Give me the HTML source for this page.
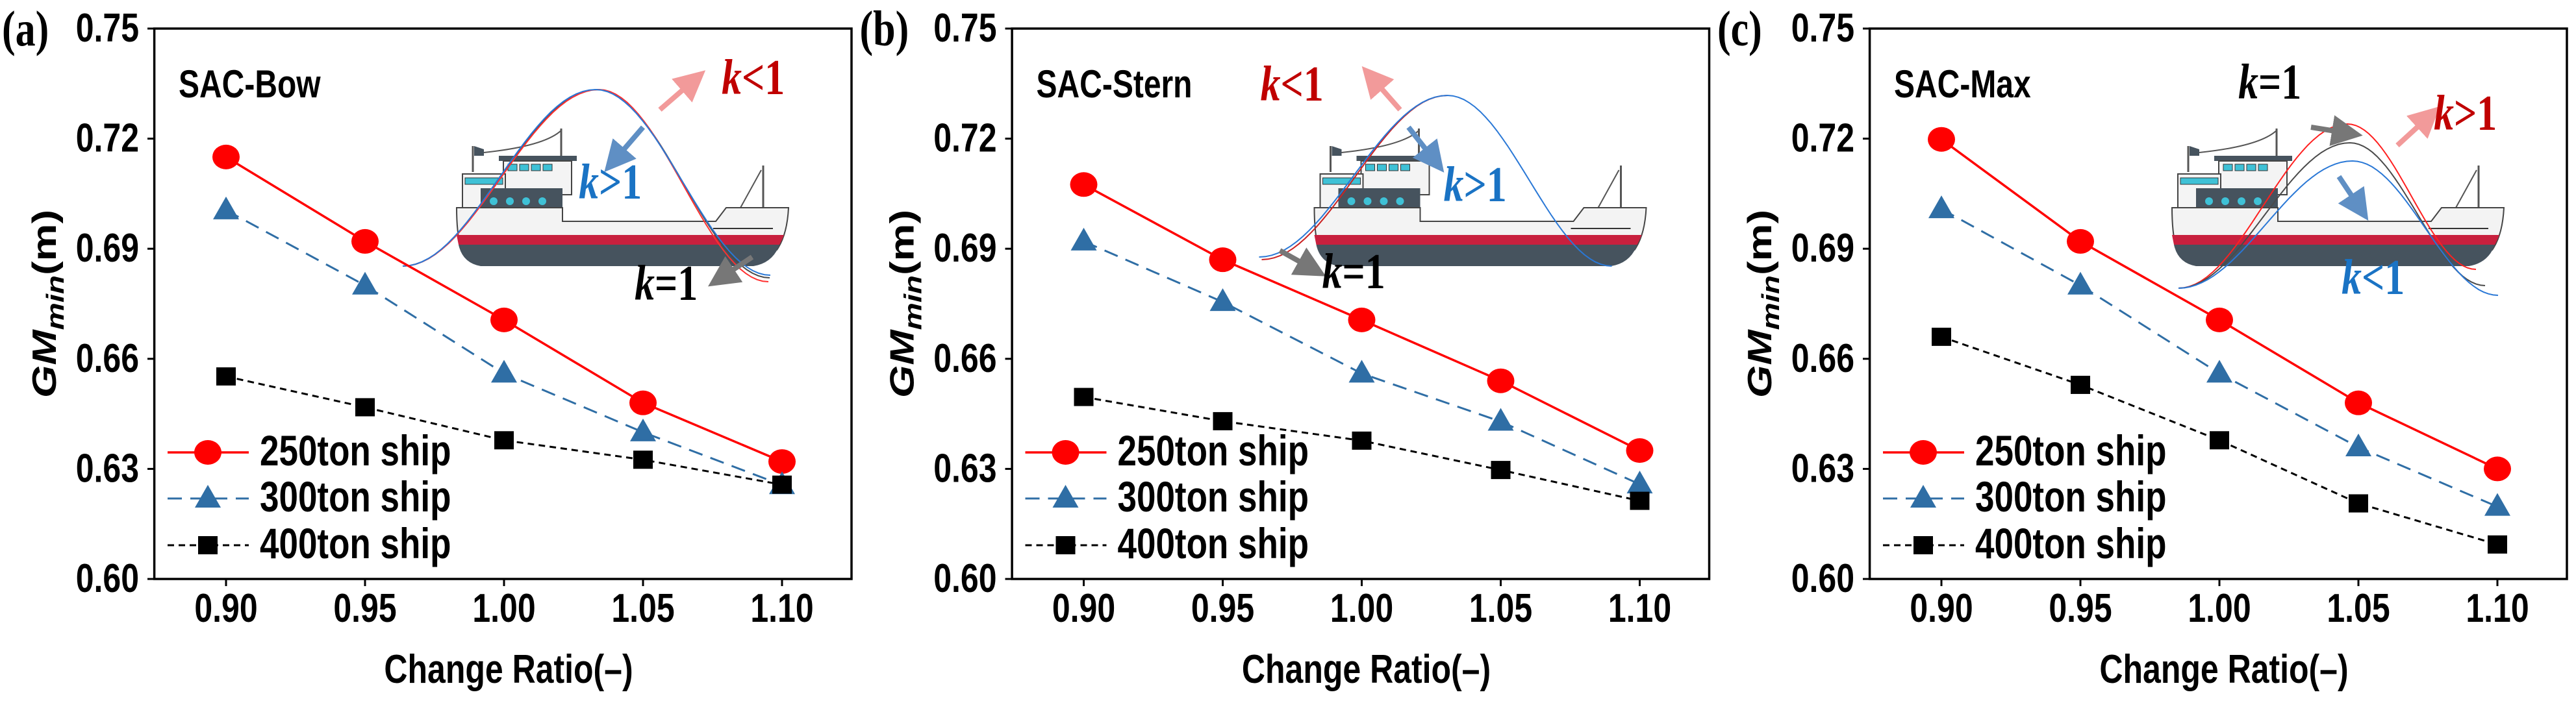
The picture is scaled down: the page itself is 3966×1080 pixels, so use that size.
<!DOCTYPE html>
<html><head><meta charset="utf-8">
<style>
html,body{margin:0;padding:0;background:#fff;}
svg{display:block;}
text{font-family:"Liberation Sans",Arial,sans-serif;font-weight:bold;}
.serif{font-family:"Liberation Serif","Times New Roman",serif;}
</style></head>
<body>
<svg id="chart" width="3966" height="1080" viewBox="0 0 3966 1080" xmlns="http://www.w3.org/2000/svg">
<defs>
<marker id="ahR" markerWidth="6" markerHeight="6" refX="3" refY="3" orient="auto"><path d="M0,0 L6,3 L0,6 Z" fill="#f29a9a"/></marker>
<marker id="ahB" markerWidth="6" markerHeight="6" refX="3" refY="3" orient="auto"><path d="M0,0 L6,3 L0,6 Z" fill="#5f8fc4"/></marker>
<marker id="ahK" markerWidth="6" markerHeight="6" refX="3" refY="3" orient="auto"><path d="M0,0 L6,3 L0,6 Z" fill="#777"/></marker>
</defs>
</svg>
<script>
// ---- data ----
const categories = [0.90, 0.95, 1.00, 1.05, 1.10];
const xTickLabels = ["0.90", "0.95", "1.00", "1.05", "1.10"];
const yTickValues = [0.60, 0.63, 0.66, 0.69, 0.72, 0.75];
const yTickLabels = ["0.60", "0.63", "0.66", "0.69", "0.72", "0.75"];
const seriesNames = ["250ton ship", "300ton ship", "400ton ship"];
const panelLabels = ["(a)", "(b)", "(c)"];
const panelTitles = ["SAC-Bow", "SAC-Stern", "SAC-Max"];
const bow250 = [0.715, 0.692, 0.6706, 0.648, 0.632];
const bow300 = [0.7005, 0.680, 0.656, 0.640, 0.6256];
const bow400 = [0.6552, 0.6468, 0.6378, 0.6325, 0.6257];
const stern250 = [0.7075, 0.687, 0.6706, 0.654, 0.635];
const stern300 = [0.692, 0.6755, 0.656, 0.6429, 0.6258];
const stern400 = [0.6496, 0.643, 0.6377, 0.6297, 0.6213];
const max250 = [0.7198, 0.692, 0.6706, 0.648, 0.630];
const max300 = [0.7008, 0.680, 0.656, 0.6359, 0.6197];
const max400 = [0.666, 0.6529, 0.6378, 0.6206, 0.6094];

const panelData = [[bow250, bow300, bow400], [stern250, stern300, stern400], [max250, max300, max400]];
const offsets = [0, 1320.5, 2641];
const NS = "http://www.w3.org/2000/svg";
const svg = document.getElementById("chart");
const SY = 1.25;

function mk(tag, attrs, parent) {
  const e = document.createElementNS(NS, tag);
  for (const k in attrs) e.setAttribute(k, attrs[k]);
  parent.appendChild(e);
  return e;
}
function txt(parent, x, y, attrs, extra) {
  const a = Object.assign({x: 0, y: 0, transform: `translate(${x},${y}) ${extra || ""} scale(1,${SY})`}, attrs);
  return mk("text", a, parent);
}
function xs(v, off) { return off + 348 + (v - 0.9) / 0.2 * 856; }
function ys(v) { return 44 + (0.75 - v) / 0.15 * 848; }

const colors = ["#ff0000", "#2f6ea5", "#000000"];
const dashes = ["none", "22 13", "10 7"];

function marker(g, type, cx, cy, color) {
  let m;
  if (type === 0) m = mk("ellipse", {cx: cx, cy: cy, rx: 21, ry: 19, fill: color}, g);
  else if (type === 1) m = mk("path", {d: `M${cx},${cy-21} L${cx+20},${cy+14} L${cx-20},${cy+14} Z`, fill: color}, g);
  else m = mk("rect", {x: cx-15, y: cy-14, width: 30, height: 28, fill: color}, g);
  return m;
}

function bell(s, p, e) {
  let pts = [];
  for (let i = 0; i <= 30; i++) { const t = i/30; pts.push([s[0]+(p[0]-s[0])*t, s[1]+(p[1]-s[1])*(1-Math.cos(Math.PI*t))/2]); }
  for (let i = 1; i <= 30; i++) { const t = i/30; pts.push([p[0]+(e[0]-p[0])*t, p[1]+(e[1]-p[1])*(1-Math.cos(Math.PI*t))/2]); }
  return "M" + pts.map(q => q[0].toFixed(1)+","+q[1].toFixed(1)).join(" L");
}

function drawShip(g) {
  const s = `
  <line x1="728" y1="265" x2="728" y2="225" stroke="#555" stroke-width="3"/>
  <path d="M730,225 L745,230 L745,240 L730,240Z" fill="#46535e"/>
  <path d="M745,235 Q840,225 865,200" stroke="#555" stroke-width="2" fill="none"/>
  <line x1="864" y1="198" x2="864" y2="275" stroke="#555" stroke-width="3"/>
  <rect x="768" y="240" width="120" height="8" fill="#46535e"/>
  <rect x="775" y="248" width="105" height="52" fill="#f4f4f4" stroke="#444" stroke-width="2"/>
  <rect x="782" y="253" width="14" height="10" fill="#3fc1d6" stroke="#333"/>
  <rect x="800" y="253" width="14" height="10" fill="#3fc1d6" stroke="#333"/>
  <rect x="818" y="253" width="14" height="10" fill="#3fc1d6" stroke="#333"/>
  <rect x="836" y="253" width="14" height="10" fill="#3fc1d6" stroke="#333"/>
  <rect x="712" y="268" width="66" height="52" fill="#f4f4f4" stroke="#444" stroke-width="2"/>
  <rect x="716" y="274" width="58" height="10" fill="#3fc1d6" stroke="#333"/>
  <rect x="740" y="290" width="126" height="50" fill="#46535e"/>
  <circle cx="760" cy="310" r="6" fill="#3fc1d6"/><circle cx="785" cy="310" r="6" fill="#3fc1d6"/><circle cx="810" cy="310" r="6" fill="#3fc1d6"/><circle cx="835" cy="310" r="6" fill="#3fc1d6"/>
  <line x1="1175" y1="320" x2="1175" y2="255" stroke="#555" stroke-width="3"/>
  <path d="M1140,320 L1172,262" stroke="#555" stroke-width="2"/>
  <path d="M703,320 L866,320 L866,341 L1102,341 L1118,320 L1214,320 Q1212,362 1196,385 L710,385 Q703,360 703,320Z" fill="#f3f3f3" stroke="#444" stroke-width="2"/>
  <line x1="1098" y1="352" x2="1190" y2="352" stroke="#333" stroke-width="2"/>
  <path d="M703,362 L1207,362 Q1203,372 1200,377 L706,377Z" fill="#c8203e"/>
  <path d="M706,377 L1200,377 Q1190,405 1160,410 L740,410 Q712,405 706,377Z" fill="#46535e"/>`;
  const w = document.createElementNS(NS, "g");
  w.innerHTML = s;
  
  
  g.appendChild(w);
}

const curveSpecs = [
  [{c:"#4a4a4a", s:[620,410], p:[920,138], e:[1185,428]}, {c:"#ff3030", s:[620,410], p:[922,138], e:[1183,434]}, {c:"#2a78d6", s:[620,410], p:[917,138], e:[1186,424]}],
  [{c:"#cc2222", s:[622,400], p:[908,147], e:[908,147]}, {c:"#2a78d6", s:[618,396], p:[908,147], e:[1161,410]}],
  [{c:"#ff2020", s:[713,444], p:[973,191], e:[1171,415]}, {c:"#4a4a4a", s:[713,444], p:[977,220], e:[1185,440]}, {c:"#2a78d6", s:[713,444], p:[981,248], e:[1205,455]}]
];
const kTexts = [
  [{t:"<", x:1111, y:145, c:"#c00000"}, {t:">", x:891, y:306, c:"#1a73c4"}, {t:"=", x:977, y:462, c:"#000"}],
  [{t:"<", x:620, y:155, c:"#c00000"}, {t:">", x:902, y:310, c:"#1a73c4"}, {t:"=", x:715, y:444, c:"#000"}],
  [{t:"=", x:805, y:152, c:"#000"}, {t:">", x:1106, y:200, c:"#c00000"}, {t:"<", x:964, y:453, c:"#1a73c4"}]
];
const arrowSpecs = [
  [{a:[1016,169,1068,124], m:"ahR", c:"#f29a9a"}, {a:[990,196,946,247], m:"ahB", c:"#5f8fc4"}, {a:[1158,396,1110,428], m:"ahK", c:"#777"}],
  [{a:[835,169,792,120], m:"ahR", c:"#f29a9a"}, {a:[848,196,888,247], m:"ahB", c:"#5f8fc4"}, {a:[650,386,700,414], m:"ahK", c:"#777"}],
  [{a:[917,196,973,205], m:"ahK", c:"#777"}, {a:[1050,224,1098,180], m:"ahR", c:"#f29a9a"}, {a:[960,272,992,320], m:"ahB", c:"#5f8fc4"}]
];

for (let p = 0; p < 3; p++) {
  const off = offsets[p];
  const g = mk("g", {}, svg);
  
  

  const ill = mk("g", {transform: `translate(${off},0)`}, g);
  
  
  drawShip(ill);
  curveSpecs[p].forEach(c => {
    const path = mk("path", {d: bell(c.s, c.p, c.e), fill: "none", stroke: c.c, "stroke-width": 2}, ill);
    
    
  });
  arrowSpecs[p].forEach(a => {
    const l = mk("line", {x1:a.a[0], y1:a.a[1], x2:a.a[2], y2:a.a[3], stroke:a.c, "stroke-width":8, "marker-end":`url(#${a.m})`}, ill);
    
    
  });
  kTexts[p].forEach(k => {
    const t = txt(ill, k.x, k.y, {fill:k.c, "font-size":62, class:"serif"});
    t.innerHTML = `<tspan font-style="italic">k</tspan>${k.t}1`;
    
    
  });

  const fr = mk("rect", {x: off+237.6, y: 44, width: 1073.4, height: 848, fill: "none", stroke: "#000", "stroke-width": 3.5}, g);
  
  

  yTickValues.forEach((v, i) => {
    const y = ys(v);
    const tk = mk("line", {x1: off+227, x2: off+237.6, y1: y, y2: y, stroke: "#000", "stroke-width": 3}, g);
    
    
    const t = txt(g, off+214, y+20, {"text-anchor": "end", "font-size": 50});
    t.textContent = yTickLabels[i];
    
    
  });
  categories.forEach((v, i) => {
    const x = xs(v, off);
    const tk = mk("line", {x1: x, x2: x, y1: 892, y2: 903, stroke: "#000", "stroke-width": 3}, g);
    
    
    const t = txt(g, x, 958, {"text-anchor": "middle", "font-size": 50});
    t.textContent = xTickLabels[i];
    
    
  });
  const xt = txt(g, off+783, 1052, {"text-anchor": "middle", "font-size": 50});
  xt.textContent = "Change Ratio(–)";
  
  

  const yt = mk("text", {x: 0, y: 0, "text-anchor": "middle", "font-size": 52, transform: `translate(${off+86},${468}) rotate(-90) scale(1.25,1)`}, g);
  yt.innerHTML = '<tspan font-style="italic">GM</tspan><tspan font-style="italic" font-size="38" dy="12">min</tspan><tspan dy="-12">(m)</tspan>';
  
  

  const pl = txt(g, off+3, 70, {"font-size": 62, class: "serif"});
  pl.textContent = panelLabels[p];
  
  

  const ti = txt(g, off+275, 150, {"font-size": 48});
  ti.textContent = panelTitles[p];
  
  

  panelData[p].forEach((vals, si) => {
    const sg = mk("g", {}, g);
    
    
    const d = vals.map((v, i) => (i ? "L" : "M") + xs(categories[i], off).toFixed(1) + "," + ys(v).toFixed(1)).join(" ");
    const ln = mk("path", {d: d, fill: "none", stroke: colors[si], "stroke-width": si === 0 ? 3.5 : 3, "stroke-dasharray": dashes[si]}, sg);
    
    
    vals.forEach((v, i) => {
      const m = marker(sg, si, xs(categories[i], off), ys(v), colors[si]);
      
      
    });
  });

  const lg = mk("g", {}, g);
  
  
  const rowsY = [697, 768, 840];
  seriesNames.forEach((nm, si) => {
    const ey = rowsY[si];
    const ll = mk("line", {x1: off+258, x2: off+383, y1: ey, y2: ey, stroke: colors[si], "stroke-width": si === 0 ? 3.5 : 3, "stroke-dasharray": dashes[si]}, lg);
    
    
    const lm = marker(lg, si, off+320, ey, colors[si]);
    
    
    const lt = txt(lg, off+400, ey+20, {"font-size": 53});
    lt.textContent = nm;
    
    
  });
}
</script>
</body></html>
